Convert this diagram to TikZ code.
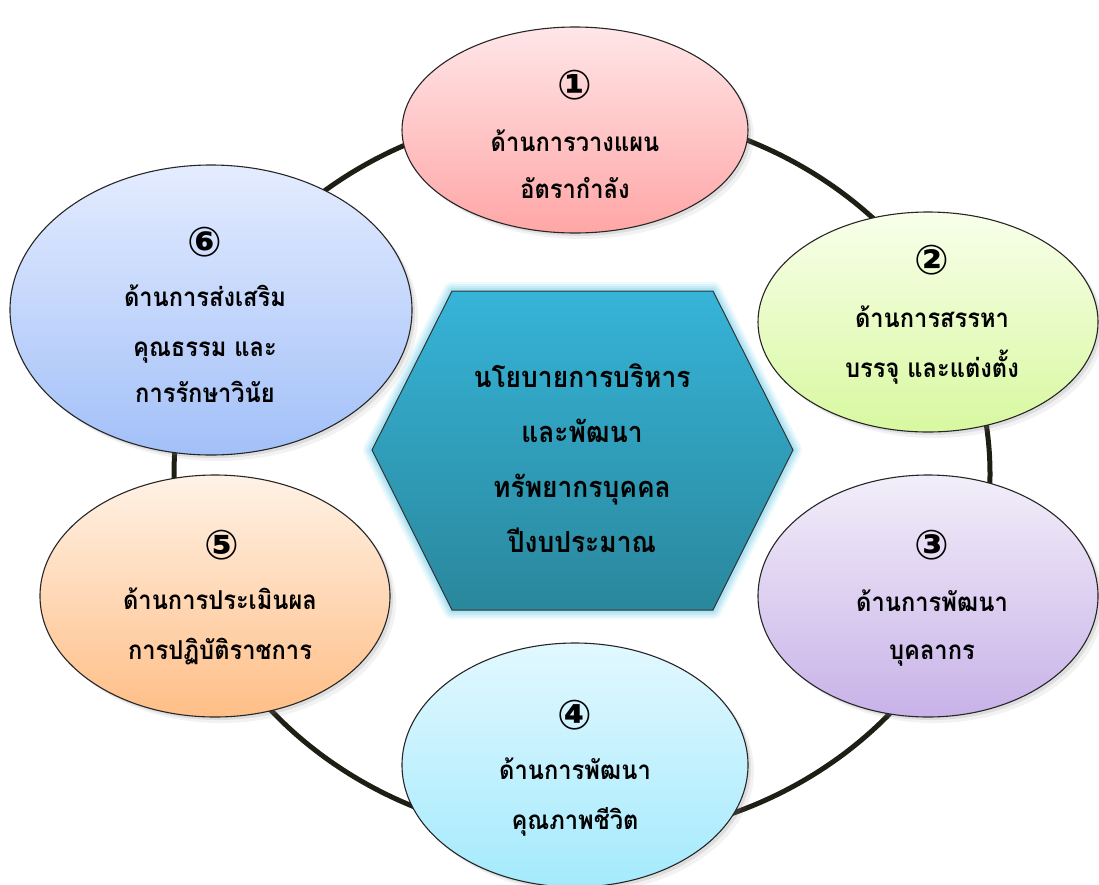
\documentclass[tikz,border=0pt]{standalone}
\usepackage{fontspec}
\newfontfamily\thai[Script=Thai,FakeStretch=0.91]{Loma}
\newfontfamily\dv{DejaVu Sans}
\usetikzlibrary{shapes.geometric,shadows}
\definecolor{ringc}{HTML}{1E1E14}
\definecolor{aT}{HTML}{FFE6E8}\definecolor{aB}{HTML}{FFA6A6}
\definecolor{bT}{HTML}{F8FFEA}\definecolor{bB}{HTML}{D8F8A0}
\definecolor{cT}{HTML}{F2EEF9}\definecolor{cB}{HTML}{C8B2E8}
\definecolor{dT}{HTML}{E2F8FF}\definecolor{dB}{HTML}{A4EAFC}
\definecolor{eT}{HTML}{FFF2E6}\definecolor{eB}{HTML}{FFBE86}
\definecolor{fT}{HTML}{E4ECFF}\definecolor{fB}{HTML}{A2C0F8}
\definecolor{hT}{HTML}{36B4D8}\definecolor{hB}{HTML}{2A879C}
\definecolor{glow}{HTML}{8ED8EE}
\begin{document}
\begin{tikzpicture}[x=1pt,y=-1pt,
  bubble/.style={ellipse, draw=black!85, line width=1.1pt, inner sep=0pt,
    drop shadow={shadow xshift=6pt, shadow yshift=-6pt, opacity=0.10},
    drop shadow={shadow xshift=3pt, shadow yshift=-3pt, opacity=0.18}},
  ttl/.style={font=\thai\bfseries\fontsize{26}{26}\selectfont, inner sep=0pt, anchor=base},
  hexttl/.style={font=\thai\bfseries\fontsize{29}{29}\selectfont, inner sep=0pt, anchor=base},
  num/.style={font=\dv\bfseries\fontsize{41}{41}\selectfont, inner sep=0pt},
  ring/.style={line width=5pt, draw=ringc}]
\useasboundingbox (0,0) rectangle (1099,884);
% ring
\draw[ring] (582,474) ellipse [x radius=408, y radius=365];
% bubbles
\node[bubble, minimum width=346pt, minimum height=206pt, top color=aT, bottom color=aB] (e1) at (575,130) {};
\node[bubble, minimum width=340pt, minimum height=220pt, top color=bT, bottom color=bB] (e2) at (928,322) {};
\node[bubble, minimum width=340pt, minimum height=242pt, top color=cT, bottom color=cB] (e3) at (928,596) {};
\node[bubble, minimum width=346pt, minimum height=244pt, top color=dT, bottom color=dB] (e4) at (575,765) {};
\node[bubble, minimum width=350pt, minimum height=242pt, top color=eT, bottom color=eB] (e5) at (215,596) {};
\node[bubble, minimum width=402pt, minimum height=290pt, top color=fT, bottom color=fB] (e6) at (211,310) {};
% hexagon
\coordinate (h1) at (372,450);
\coordinate (h2) at (452,291);
\coordinate (h3) at (713,291);
\coordinate (h4) at (793,450);
\coordinate (h5) at (713,610);
\coordinate (h6) at (452,610);
\foreach \w/\o in {18/0.15,14/0.2,10/0.28,6/0.4}{
  \draw[glow, line width=\w pt, line join=round, opacity=\o] (h1)--(h2)--(h3)--(h4)--(h5)--(h6)--cycle;
}
\draw[black!80, line width=1pt, top color=hT, bottom color=hB] (h1)--(h2)--(h3)--(h4)--(h5)--(h6)--cycle;
% texts
\node[num] (n1) at (575,85) {①};
\node[ttl] (t1a) at (575,151) {ด้านการวางแผน};
\node[ttl] (t1b) at (575,198) {อัตรากำลัง};
\node[num] (n2) at (932,260) {②};
\node[ttl] (t2a) at (932,327) {ด้านการสรรหา};
\node[ttl] (t2b) at (932,377) {บรรจุ และแต่งตั้ง};
\node[num] (n3) at (932,545) {③};
\node[ttl] (t3a) at (932,611) {ด้านการพัฒนา};
\node[ttl] (t3b) at (932,659) {บุคลากร};
\node[num] (n4) at (575,715) {④};
\node[ttl] (t4a) at (575,779) {ด้านการพัฒนา};
\node[ttl] (t4b) at (575,829) {คุณภาพชีวิต};
\node[num] (n5) at (222,545) {⑤};
\node[ttl] (t5a) at (220,609) {ด้านการประเมินผล};
\node[ttl] (t5b) at (220,659) {การปฏิบัติราชการ};
\node[num] (n6) at (205,242) {⑥};
\node[ttl] (t6a) at (205,306) {ด้านการส่งเสริม};
\node[ttl] (t6b) at (205,356) {คุณธรรม และ};
\node[ttl] (t6c) at (205,402) {การรักษาวินัย};
\node[hexttl] (c1) at (582,387) {นโยบายการบริหาร};
\node[hexttl] (c2) at (582,442) {และพัฒนา};
\node[hexttl] (c3) at (582,497) {ทรัพยากรบุคคล};
\node[hexttl] (c4) at (582,552) {ปีงบประมาณ};
\end{tikzpicture}
\end{document}
